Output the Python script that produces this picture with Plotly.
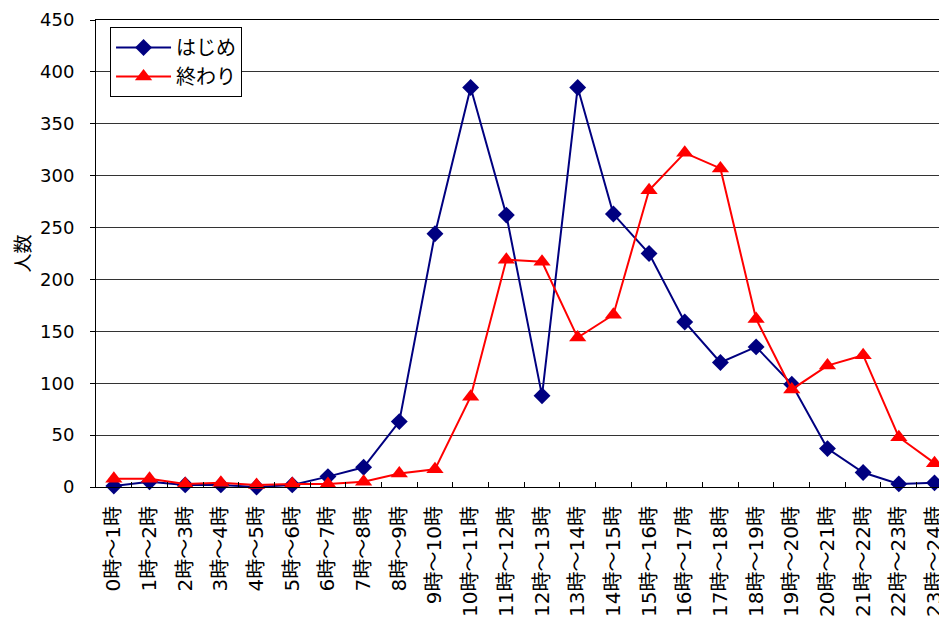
import plotly.graph_objects as go

categories = [f"{h}時～{h+1}時" for h in range(24)]
hajime = [1, 5, 2, 2, 0, 2, 10, 19, 63, 244, 385, 262, 88, 385, 263, 225,
          159, 120, 135, 99, 37, 14, 3, 4]
owari = [8, 8, 3, 4, 2, 3, 3, 5, 13, 17, 87, 219, 217, 144, 166, 286,
         322, 307, 162, 94, 117, 127, 48, 23]
y_ticks = list(range(0, 451, 50))

FONT = "Noto Sans CJK JP"
MIXED = "DejaVu Sans, Noto Sans CJK JP"

fig = go.Figure()
fig.add_trace(go.Scatter(
    x=categories, y=hajime, name="はじめ", mode="lines+markers",
    line=dict(color="#000080", width=2),
    marker=dict(symbol="diamond", size=13, color="#000080"),
    cliponaxis=False,
))
fig.add_trace(go.Scatter(
    x=categories, y=owari, name="終わり", mode="lines+markers",
    line=dict(color="#FF0000", width=2),
    marker=dict(symbol="triangle-up", size=15, color="#FF0000"),
    cliponaxis=False,
))

# page body has an 8px default margin, so the figure is sized to fit the window
fig.update_layout(
    width=939, height=610,
    margin=dict(l=88, r=0, t=12, b=131),
    paper_bgcolor="white", plot_bgcolor="white",
    font=dict(family=FONT, color="black", size=17),
    showlegend=True,
    legend=dict(
        x=0.0165, y=0.985, xanchor="left", yanchor="top",
        bgcolor="white", bordercolor="black", borderwidth=1,
        font=dict(family=FONT, size=20, color="black"),
        itemwidth=55, tracegroupgap=4,
    ),
    xaxis=dict(
        type="category", range=[-0.5, 23.35], automargin=False,
        tickson="boundaries", ticks="inside", ticklen=5, tickcolor="black",
        showline=True, linecolor="black", linewidth=1, mirror=True,
        showgrid=False, tickangle=-90,
        tickfont=dict(family=MIXED, size=20, color="black"),
        ticklabelstandoff=10,
    ),
    yaxis=dict(
        range=[0, 450], tickvals=y_ticks, ticks="outside", ticklen=5,
        tickcolor="black", showline=True, linecolor="black", linewidth=1,
        showgrid=True, gridcolor="#333333", gridwidth=1, zeroline=False,
        automargin=False,
        tickfont=dict(family="DejaVu Sans", size=18, color="black"),
        ticklabelstandoff=12, ticklabeloverflow="allow",
        title=dict(text="人数", font=dict(family=FONT, size=19, color="black"),
                   standoff=12),
    ),
)

fig.write_html("out.html")
